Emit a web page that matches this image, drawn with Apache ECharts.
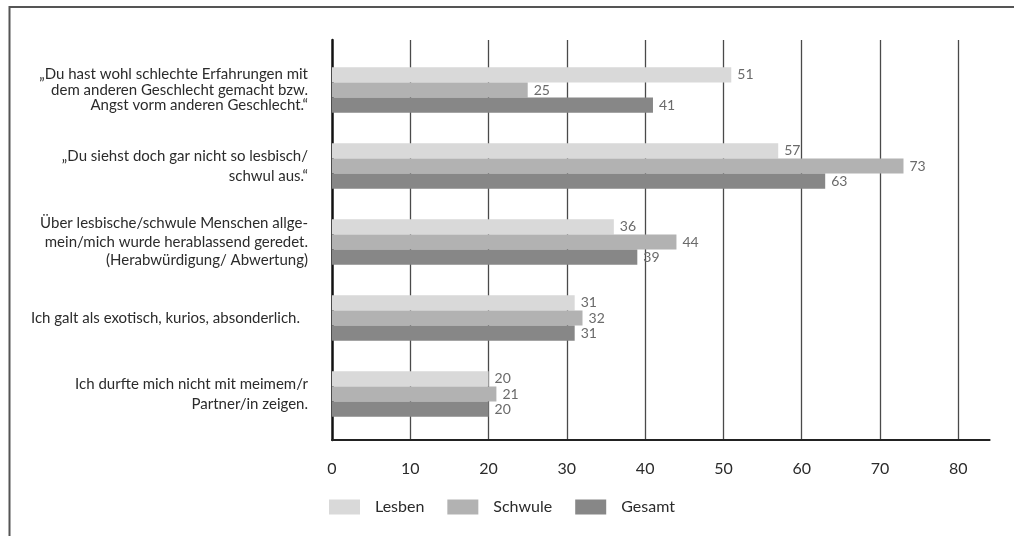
<!DOCTYPE html>
<html>
<head>
<meta charset="utf-8">
<script src="https://cdn.jsdelivr.net/npm/echarts@6/dist/echarts.min.js"></script>
<style>
  html, body { margin: 0; padding: 0; background: #ffffff; }
  #chart { width: 1014px; height: 536px; }
</style>
</head>
<body>
<div id="chart"></div>
<script>
// Statements (top to bottom)
const categories = [
  '\u201EDu hast wohl schlechte Erfahrungen mit\ndem anderen Geschlecht gemacht bzw.\nAngst vorm anderen Geschlecht.\u201C',
  '\u201EDu siehst doch gar nicht so lesbisch/\nschwul aus.\u201C',
  '\u00DCber lesbische/schwule Menschen allge-\nmein/mich wurde herablassend geredet.\n(Herabw\u00FCrdigung/ Abwertung)',
  'Ich galt als exotisch, kurios, absonderlich.',
  'Ich durfte mich nicht mit meimem/r\nPartner/in zeigen.'
];

const seriesNames = ['Lesben', 'Schwule', 'Gesamt'];

// Percent values per group
const lesben  = [51, 57, 36, 31, 20];
const schwule = [25, 73, 44, 32, 21];
const gesamt  = [41, 63, 39, 31, 20];

const tickValues = [0, 10, 20, 30, 40, 50, 60, 70, 80];

const FONT = 'Lato, Roboto, "Liberation Sans", sans-serif';
const colors = ['#d9d9d9', '#b2b2b2', '#878787'];

// per-label typography for the multi-line statements
const labelStyles = [
  { lineHeight: 15.5, padding: [0, 0, 12, 0] },
  { lineHeight: 19.5 },
  { lineHeight: 18.5, padding: [4, 0, 0, 0] },
  { lineHeight: 19, padding: [0, 8, 0, 0] },
  { lineHeight: 20, padding: [0, 0, 4, 0] }
];

const X_MAX = 84;
const gridLeft = 332;
const gridRight = 24.4;

const chart = echarts.init(document.getElementById('chart'), null, { renderer: 'canvas' });

const valueData = [lesben, schwule, gesamt];

const option = {
  animation: false,
  backgroundColor: '#ffffff',
  textStyle: { fontFamily: FONT },
  graphic: [{
    type: 'rect',
    shape: { x: 9.5, y: 7, width: 1200, height: 800 },
    style: { fill: 'none', stroke: '#555', lineWidth: 2 },
    silent: true,
    z: 0
  }],
  legend: {
    left: 329,
    top: 499,
    padding: 0,
    itemWidth: 31,
    itemHeight: 15,
    itemGap: 23,
    icon: 'rect',
    data: seriesNames,
    textStyle: { fontFamily: FONT, fontSize: 16, color: '#2b2b2b', padding: [0, 0, 0, 10] }
  },
  grid: [
    // frame grid: gridlines, axes and tick labels
    { left: gridLeft, right: gridRight, top: 40, height: 400, containLabel: false },
    // bar grid
    { left: gridLeft, right: gridRight, top: 52, height: 380, containLabel: false }
  ],
  xAxis: [
    {
      gridIndex: 0,
      type: 'value',
      min: 0,
      max: X_MAX,
      interval: 10,
      axisLine: { show: true, lineStyle: { color: '#222', width: 2 } },
      axisTick: { show: false },
      axisLabel: {
        show: true,
        margin: 21,
        fontFamily: FONT,
        fontSize: 16,
        color: '#2b2b2b',
        showMaxLabel: false,
        formatter: v => (tickValues.indexOf(v) >= 0 ? String(v) : '')
      },
      splitLine: {
        show: true,
        showMinLine: false,
        showMaxLine: false,
        lineStyle: { color: '#4a4a4a', width: 1.3 }
      }
    },
    {
      gridIndex: 1,
      type: 'value',
      min: 0,
      max: X_MAX,
      show: false,
      splitLine: { show: false }
    }
  ],
  yAxis: [
    {
      gridIndex: 0,
      type: 'value',
      axisLine: { show: true, lineStyle: { color: '#111', width: 2.5 } },
      axisTick: { show: false },
      axisLabel: { show: false },
      splitLine: { show: false }
    },
    {
      gridIndex: 1,
      type: 'category',
      inverse: true,
      data: categories.map((c, i) => ({ value: c, textStyle: labelStyles[i] })),
      axisLine: { show: false },
      axisTick: { show: false },
      splitLine: { show: false },
      axisLabel: {
        margin: 24,
        fontFamily: FONT,
        fontSize: 15,
        color: '#2b2b2b',
        align: 'right',
        verticalAlign: 'middle'
      }
    }
  ],
  series: seriesNames.map((name, i) => ({
    name: name,
    type: 'bar',
    xAxisIndex: 1,
    yAxisIndex: 1,
    data: valueData[i],
    barWidth: 15.2,
    barGap: '0%',
    itemStyle: { color: colors[i] },
    label: {
      show: true,
      position: 'right',
      distance: 6,
      fontFamily: FONT,
      fontSize: 14,
      color: '#6a6a6a'
    }
  }))
};

chart.setOption(option);
</script>
</body>
</html>
